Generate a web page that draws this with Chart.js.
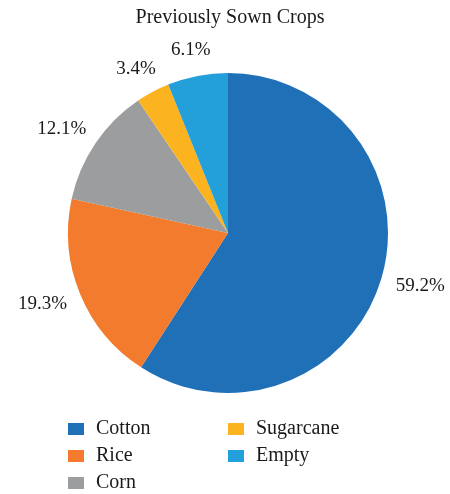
<!DOCTYPE html>
<html>
<head>
<meta charset="utf-8">
<script src="https://cdn.jsdelivr.net/npm/chart.js@4"></script>
<style>
  html, body { margin: 0; padding: 0; background: #fff; }
  #wrap { width: 450px; height: 494px; }
</style>
</head>
<body>
<div id="wrap"><canvas id="pieChart" width="450" height="494"></canvas></div>
<script>
const categories = ['Cotton', 'Rice', 'Corn', 'Sugarcane', 'Empty'];
const shares = [59.2, 19.3, 12.1, 3.4, 6.1];
const sliceColors = ['#2070b8', '#f37b2d', '#9b9d9e', '#fbb41f', '#239fd9'];
const titleText = 'Previously Sown Crops';

const FONT = '"Liberation Serif", "DejaVu Serif", serif';

// percentage labels just outside each slice
const outsideLabels = {
    id: 'outsideLabels',
    afterDatasetsDraw(chart) {
        const ctx = chart.ctx;
        const arcs = chart.getDatasetMeta(0).data;
        ctx.save();
        ctx.font = '19px ' + FONT;
        ctx.fillStyle = '#1a1a1a';
        ctx.textAlign = 'center';
        ctx.textBaseline = 'middle';
        arcs.forEach((arc, i) => {
            const mid = (arc.startAngle + arc.endAngle) / 2;
            const txt = shares[i].toFixed(1) + '%';
            const w = ctx.measureText(txt).width;
            const r = arc.outerRadius + 16;
            const x = arc.x + Math.cos(mid) * (r + w / 2);
            const y = arc.y + Math.sin(mid) * (r + 10);
            ctx.fillText(txt, x, y);
        });
        ctx.restore();
    }
};

// title + two column legend (column-wise order like the original)
const titleAndLegend = {
    id: 'titleAndLegend',
    afterDraw(chart) {
        const ctx = chart.ctx;
        ctx.save();
        ctx.fillStyle = '#1a1a1a';
        ctx.font = '20px ' + FONT;
        ctx.textAlign = 'center';
        ctx.textBaseline = 'middle';
        ctx.fillText(titleText, 230, 18);

        ctx.font = '20px ' + FONT;
        ctx.textAlign = 'left';
        const perCol = 3;
        categories.forEach((name, i) => {
            const col = Math.floor(i / perCol);
            const row = i % perCol;
            const bx = 68 + col * 160;
            const cy = 429 + row * 27;
            ctx.fillStyle = sliceColors[i];
            ctx.fillRect(bx, cy - 6, 16, 12);
            ctx.fillStyle = '#1a1a1a';
            ctx.fillText(name, bx + 28, cy);
        });
        ctx.restore();
    }
};

const ctx = document.getElementById('pieChart').getContext('2d');
const chart = new Chart(ctx, {
    type: 'pie',
    data: {
        labels: categories,
        datasets: [{
            data: shares,
            backgroundColor: sliceColors,
            borderWidth: 0
        }]
    },
    options: {
        responsive: false,
        animation: false,
        layout: {
            padding: { top: 73, bottom: 101, left: 68, right: 62 }
        },
        plugins: {
            legend: { display: false },
            title: { display: false },
            tooltip: { enabled: false }
        }
    },
    plugins: [outsideLabels, titleAndLegend]
});
</script>
</body>
</html>
